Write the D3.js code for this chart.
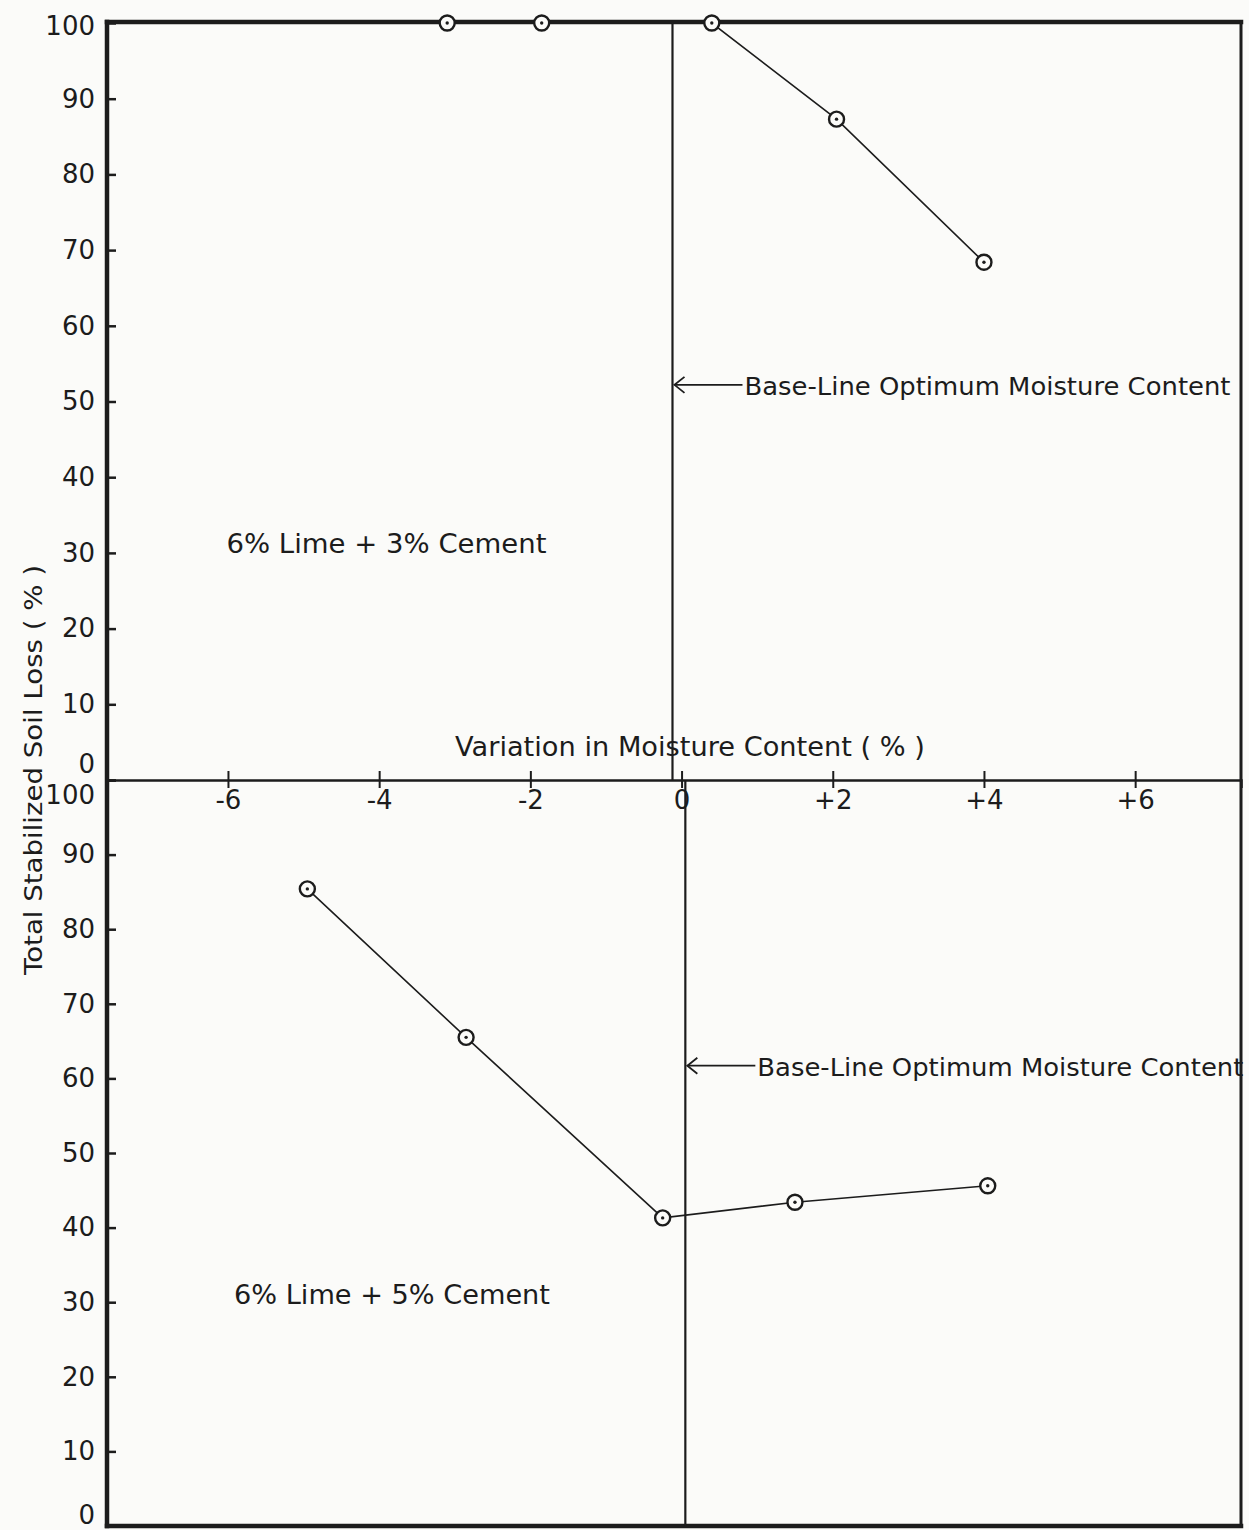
<!DOCTYPE html>
<html>
<head>
<meta charset="utf-8">
<script src="https://cdn.jsdelivr.net/npm/d3@7"></script>
<style>
  html, body { margin: 0; padding: 0; background: #fbfbf9; }
  svg { display: block; }
  text { font-family: "DejaVu Sans", "Liberation Sans", sans-serif; fill: #1c1c1c; }
</style>
</head>
<body>
<svg id="chart" width="1249" height="1530"></svg>
<script>
// Variation in moisture content (%) relative to optimum, and total soil loss (%)
const upperMoisture = [-3.1, -1.85, 0.4, 2.05, 4.0];
const upperLoss     = [100, 100, 100, 87.3, 68.4];
const lowerMoisture = [-4.95, -2.85, -0.25, 1.5, 4.05];
const lowerLoss     = [85.4, 65.5, 41.3, 43.4, 45.6];

const upperLabel = "6% Lime + 3% Cement";
const lowerLabel = "6% Lime + 5% Cement";
const baselineNote = "Base-Line Optimum Moisture Content";

const xTickValues = [-6, -4, -2, 0, 2, 4, 6];
const xTickLabels = ["-6", "-4", "-2", "0", "+2", "+4", "+6"];
const yTickValues = [0, 10, 20, 30, 40, 50, 60, 70, 80, 90, 100];

const xTitle = "Variation in Moisture Content ( % )";
const yTitle = "Total Stabilized Soil Loss ( % )";

const ink = "#1c1c1c";
const svg = d3.select("#chart");

const plotLeft = 107, plotRight = 1241, plotTop = 22, plotMid = 780, plotBottom = 1526;

const x = d3.scaleLinear().domain([-7.6, 7.4]).range([plotLeft, plotRight]);
const yUpper = d3.scaleLinear().domain([0, 100]).range([plotMid, plotTop + 1]);
const yLower = d3.scaleLinear().domain([0, 100]).range([plotBottom, plotMid]);

// Outer frame
const frame = svg.append("g").attr("stroke", ink).attr("fill", "none").attr("stroke-linecap", "square");
frame.append("line").attr("x1", plotLeft).attr("x2", plotRight).attr("y1", plotTop).attr("y2", plotTop).attr("stroke-width", 4.5);
frame.append("line").attr("x1", plotLeft).attr("x2", plotLeft).attr("y1", plotTop).attr("y2", plotBottom).attr("stroke-width", 4.5);
frame.append("line").attr("x1", plotLeft).attr("x2", plotRight).attr("y1", plotBottom).attr("y2", plotBottom).attr("stroke-width", 4.5);
frame.append("line").attr("x1", plotRight).attr("x2", plotRight).attr("y1", plotTop).attr("y2", plotBottom).attr("stroke-width", 3);

// Left axes, ticks pointing into the plot
function leftAxis(scale, which) {
  const g = svg.append("g")
    .attr("transform", `translate(${plotLeft},0)`)
    .call(d3.axisLeft(scale).tickValues(yTickValues).tickSize(-9).tickPadding(12).tickFormat(d3.format("d")));
  g.select(".domain").remove();
  g.selectAll(".tick line").attr("stroke", ink).attr("stroke-width", 2.5);
  g.selectAll(".tick text").attr("font-size", 26).attr("fill", ink);
  // the shared 0 / 100 labels sit one above the other at the middle axis
  if (which === "upper") {
    g.selectAll(".tick").filter(d => d === 0).select("text").attr("dy", "-0.3em");
    g.selectAll(".tick").filter(d => d === 100).select("text").attr("dy", "0.45em");
  } else {
    g.selectAll(".tick").filter(d => d === 100).select("text").attr("dy", "0.9em");
    g.selectAll(".tick").filter(d => d === 0).select("text").attr("dy", "-0.08em");
  }
  return g;
}
leftAxis(yUpper, "upper");
leftAxis(yLower, "lower");

// Middle moisture axis with ticks crossing the line
const xAxis = svg.append("g")
  .attr("transform", `translate(0,${plotMid})`)
  .call(d3.axisBottom(x).tickValues(xTickValues).tickSize(8).tickPadding(3)
    .tickFormat((d, i) => xTickLabels[i]));
xAxis.select(".domain").attr("stroke", ink).attr("stroke-width", 2.5);
xAxis.selectAll(".tick line").attr("stroke", ink).attr("stroke-width", 2).attr("y1", -9);
xAxis.selectAll(".tick text").attr("font-size", 26).attr("fill", ink);

// Axis titles
svg.append("text")
  .attr("x", 690).attr("y", 756)
  .attr("text-anchor", "middle").attr("font-size", 26)
  .attr("textLength", 470).attr("lengthAdjust", "spacingAndGlyphs")
  .text(xTitle);
svg.append("text")
  .attr("transform", `translate(42,${770}) rotate(-90)`)
  .attr("text-anchor", "middle").attr("font-size", 25)
  .attr("textLength", 410).attr("lengthAdjust", "spacingAndGlyphs")
  .text(yTitle);

// Optimum moisture base-lines
const upperBase = -0.12, lowerBase = 0.05;
svg.append("line").attr("x1", x(upperBase)).attr("x2", x(upperBase))
  .attr("y1", yUpper(100)).attr("y2", yUpper(0)).attr("stroke", ink).attr("stroke-width", 2.2);
svg.append("line").attr("x1", x(lowerBase)).attr("x2", x(lowerBase))
  .attr("y1", yLower(100)).attr("y2", yLower(0)).attr("stroke", ink).attr("stroke-width", 2.2);

function baselineArrow(xBase, yPos) {
  const g = svg.append("g");
  const x0 = x(xBase) + 2, x1 = x0 + 68;
  g.append("line").attr("x1", x0).attr("x2", x1).attr("y1", yPos).attr("y2", yPos)
    .attr("stroke", ink).attr("stroke-width", 1.8);
  g.append("path").attr("d", `M${x0 + 10},${yPos - 8} L${x0},${yPos} L${x0 + 10},${yPos + 8}`)
    .attr("fill", "none").attr("stroke", ink).attr("stroke-width", 1.8);
  g.append("text").attr("x", x1 + 2).attr("y", yPos + 10).attr("font-size", 25)
    .attr("textLength", 486).attr("lengthAdjust", "spacingAndGlyphs")
    .text(baselineNote);
}
baselineArrow(upperBase, yUpper(52.2));
baselineArrow(lowerBase, yLower(61.7));

// Mixture labels
svg.append("text").attr("x", x(-6.02)).attr("y", yUpper(30.0)).attr("font-size", 26)
  .attr("textLength", 320).attr("lengthAdjust", "spacingAndGlyphs").text(upperLabel);
svg.append("text").attr("x", x(-5.92)).attr("y", yLower(29.8)).attr("font-size", 26)
  .attr("textLength", 316).attr("lengthAdjust", "spacingAndGlyphs").text(lowerLabel);

// Data series: polyline with circled-dot markers
function series(xs, ys, yScale) {
  const pts = xs.map((v, i) => [v, ys[i]]);
  const line = d3.line().x(d => x(d[0])).y(d => yScale(d[1]));
  svg.append("path").datum(pts).attr("d", line)
    .attr("fill", "none").attr("stroke", ink).attr("stroke-width", 1.6);
  const m = svg.append("g").selectAll("g").data(pts).join("g")
    .attr("transform", d => `translate(${x(d[0])},${yScale(d[1])})`);
  m.append("circle").attr("r", 7.5).attr("fill", "#fbfbf9").attr("stroke", ink).attr("stroke-width", 2.4);
  m.append("circle").attr("r", 1.7).attr("fill", ink);
}
series(upperMoisture, upperLoss, yUpper);
series(lowerMoisture, lowerLoss, yLower);
</script>
</body>
</html>
